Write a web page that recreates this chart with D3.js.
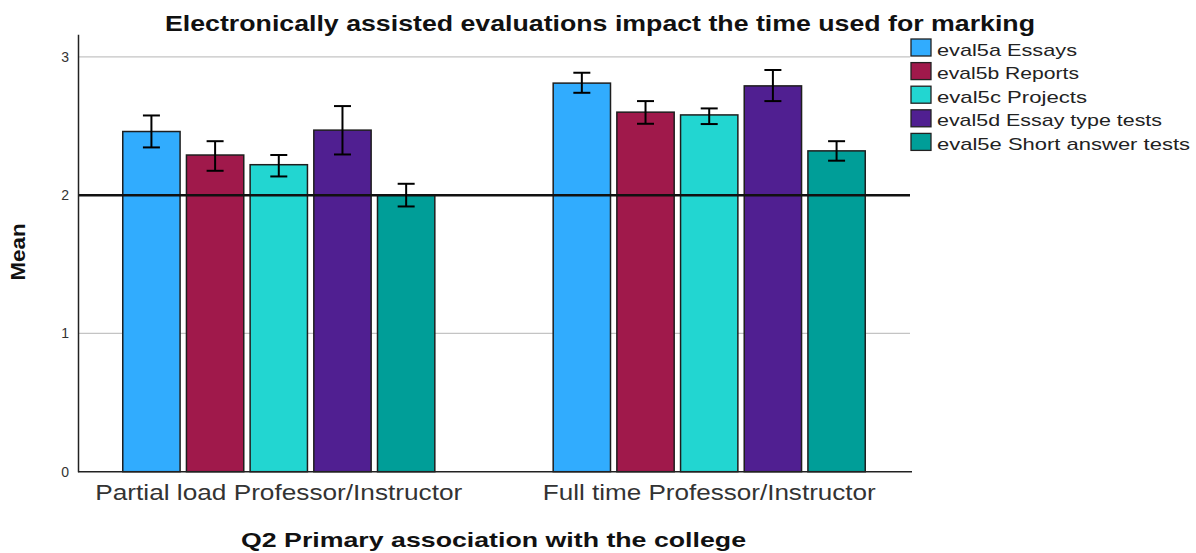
<!DOCTYPE html>
<html>
<head>
<meta charset="utf-8">
<script src="https://cdn.jsdelivr.net/npm/d3@7"></script>
<style>
  body { margin: 0; background: #fff; }
  text { font-family: "Liberation Sans", Arial, sans-serif; }
</style>
</head>
<body>
<script>
// Data
const groups = ["Partial load Professor/Instructor", "Full time Professor/Instructor"];
const seriesNames = ["eval5a Essays", "eval5b Reports", "eval5c Projects", "eval5d Essay type tests", "eval5e Short answer tests"];
const seriesColors = ["#31acfe", "#a0194b", "#22d6d1", "#501f91", "#009e98"];
const partialMeans = [2.46, 2.29, 2.22, 2.47, 2.00];
const partialLow   = [2.345, 2.176, 2.135, 2.294, 1.918];
const partialHigh  = [2.576, 2.39, 2.29, 2.644, 2.082];
const fullMeans = [2.81, 2.60, 2.58, 2.79, 2.32];
const fullLow   = [2.74, 2.516, 2.514, 2.68, 2.249];
const fullHigh  = [2.885, 2.68, 2.627, 2.905, 2.39];
const yTicks = [0, 1, 2, 3];
const refValue = 2;

const W = 1196, H = 553;
const plot = {left: 78, right: 910, top: 34.3, bottom: 471.7};

const svg = d3.select("body").append("svg")
    .attr("width", W)
    .attr("height", H);

// build rows for the bars
const rows = [];
[[partialMeans, partialLow, partialHigh], [fullMeans, fullLow, fullHigh]].forEach(function(g, gi) {
    seriesNames.forEach(function(s, si) {
        rows.push({group: groups[gi], series: s, mean: g[0][si], lo: g[1][si], hi: g[2][si], color: seriesColors[si]});
    });
});

const x0 = d3.scaleBand()
    .domain(groups)
    .range([plot.left, plot.right])
    .paddingInner(0.275)
    .paddingOuter(0.104);

const x1 = d3.scaleBand()
    .domain(seriesNames)
    .range([0, x0.bandwidth()])
    .paddingInner(0.1)
    .paddingOuter(0);

const y = d3.scaleLinear()
    .domain([0, 3.163])
    .range([plot.bottom, plot.top]);

// gridlines
svg.append("g")
    .selectAll("line")
    .data(yTicks.filter(d => d > 0))
    .join("line")
    .attr("x1", plot.left).attr("x2", plot.right)
    .attr("y1", d => y(d)).attr("y2", d => y(d))
    .attr("stroke", "#c4c4c4")
    .attr("stroke-width", 1.2);

// bars
svg.append("g")
    .selectAll("rect")
    .data(rows)
    .join("rect")
    .attr("x", d => x0(d.group) + x1(d.series))
    .attr("y", d => y(d.mean))
    .attr("width", x1.bandwidth())
    .attr("height", d => y(0) - y(d.mean))
    .attr("fill", d => d.color)
    .attr("stroke", "#1e1e1e")
    .attr("stroke-width", 1.5);

// reference line
svg.append("line")
    .attr("x1", plot.left).attr("x2", plot.right)
    .attr("y1", y(refValue)).attr("y2", y(refValue))
    .attr("stroke", "#111")
    .attr("stroke-width", 2.5);

// error bars
const eb = svg.append("g")
    .selectAll("g")
    .data(rows)
    .join("g")
    .attr("stroke", "#000")
    .attr("stroke-width", 2);
const cx = d => x0(d.group) + x1(d.series) + x1.bandwidth() / 2;
eb.append("line")
    .attr("x1", cx).attr("x2", cx)
    .attr("y1", d => y(d.lo)).attr("y2", d => y(d.hi));
eb.append("line")
    .attr("x1", d => cx(d) - 8.5).attr("x2", d => cx(d) + 8.5)
    .attr("y1", d => y(d.lo)).attr("y2", d => y(d.lo));
eb.append("line")
    .attr("x1", d => cx(d) - 8.5).attr("x2", d => cx(d) + 8.5)
    .attr("y1", d => y(d.hi)).attr("y2", d => y(d.hi));

// y axis
const yAxis = svg.append("g")
    .attr("transform", `translate(${plot.left},0)`)
    .call(d3.axisLeft(y).tickValues(yTicks).tickSize(0).tickPadding(9).tickFormat(d3.format("d")));
yAxis.select(".domain").attr("stroke", "#222").attr("stroke-width", 1.5);
yAxis.selectAll("text")
    .attr("font-size", 14)
    .attr("fill", "#333")
    .style("font-family", "Liberation Sans, Arial, sans-serif");

// x axis
const xAxis = svg.append("g")
    .attr("transform", `translate(0,${plot.bottom})`)
    .call(d3.axisBottom(x0).tickSize(0).tickPadding(0));
xAxis.select(".domain").remove();
svg.append("line")
    .attr("x1", plot.left).attr("x2", plot.right + 2)
    .attr("y1", plot.bottom).attr("y2", plot.bottom)
    .attr("stroke", "#222").attr("stroke-width", 1.5);
const tickWidths = [367, 333];
xAxis.selectAll("text")
    .attr("dy", null)
    .attr("y", 28.5)
    .attr("font-size", 22)
    .attr("fill", "#333")
    .attr("textLength", (d, i) => tickWidths[i])
    .attr("lengthAdjust", "spacingAndGlyphs")
    .style("font-family", "Liberation Sans, Arial, sans-serif");

// titles
svg.append("text")
    .attr("x", 165).attr("y", 30.5)
    .attr("font-size", 22)
    .attr("font-weight", "bold")
    .attr("fill", "#111")
    .attr("textLength", 870)
    .attr("lengthAdjust", "spacingAndGlyphs")
    .text("Electronically assisted evaluations impact the time used for marking");

svg.append("text")
    .attr("x", 241).attr("y", 546.5)
    .attr("font-size", 21)
    .attr("font-weight", "bold")
    .attr("fill", "#111")
    .attr("textLength", 505)
    .attr("lengthAdjust", "spacingAndGlyphs")
    .text("Q2 Primary association with the college");

svg.append("text")
    .attr("transform", "translate(25,252) rotate(-90)")
    .attr("text-anchor", "middle")
    .attr("font-size", 20)
    .attr("font-weight", "bold")
    .attr("fill", "#111")
    .attr("textLength", 57)
    .attr("lengthAdjust", "spacingAndGlyphs")
    .text("Mean");

// legend
const legend = svg.append("g")
    .selectAll("g")
    .data(seriesNames)
    .join("g")
    .attr("transform", (d, i) => `translate(911,${39 + i * 23.6})`);
legend.append("rect")
    .attr("width", 20).attr("height", 17)
    .attr("fill", (d, i) => seriesColors[i])
    .attr("stroke", "#222")
    .attr("stroke-width", 1.3);
const legendWidths = [140, 142, 150, 225, 253];
legend.append("text")
    .attr("x", 26).attr("y", 16.5)
    .attr("font-size", 17)
    .attr("fill", "#222")
    .attr("textLength", (d, i) => legendWidths[i])
    .attr("lengthAdjust", "spacingAndGlyphs")
    .text(d => d);
</script>
</body>
</html>
